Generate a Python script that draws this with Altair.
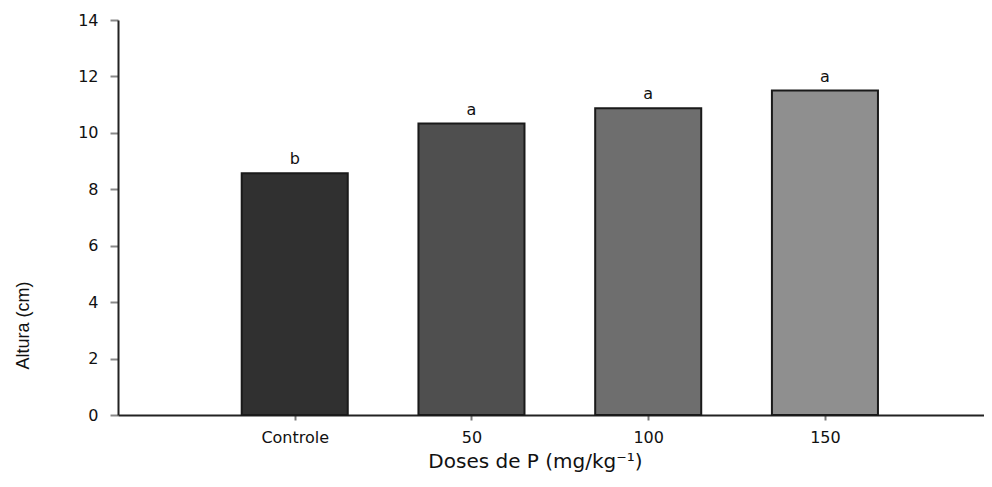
import altair as alt
import pandas as pd

categories = ["Controle", "50", "100", "150"]
values = [8.57, 10.33, 10.87, 11.5]
letters = ["b", "a", "a", "a"]
colors = ["#303030", "#4f4f4f", "#6e6e6e", "#8f8f8f"]

df = pd.DataFrame({
    "cat": categories,
    "pos": list(range(1, len(categories) + 1)),
    "val": values,
    "letter": letters,
    "color": colors,
})

label_expr = "['', " + ", ".join("'%s'" % c for c in categories) + "][datum.value]"

xscale = alt.Scale(domain=[0, 4.9], nice=False, zero=False)
yscale = alt.Scale(domain=[0, 14], nice=False)

base = alt.Chart(df).transform_calculate(
    x0="datum.pos - 0.3", x1="datum.pos + 0.3"
)

bars = base.mark_bar(stroke="#1a1a1a", strokeWidth=2).encode(
    x=alt.X("x0:Q", scale=xscale,
            axis=alt.Axis(values=[1, 2, 3, 4], labelExpr=label_expr,
                          title="Doses de P (mg/kg\u207b\u00b9)",
                          grid=False, tickSize=5, tickColor="#777", tickWidth=2,
                          domainColor="#222", domainWidth=2,
                          labelFont="DejaVu Sans", labelFontSize=16, labelColor="#111",
                          labelPadding=9,
                          titleFont="DejaVu Sans", titleFontSize=20, titleFontWeight="normal",
                          titleColor="#111", titleX=417, titleY=52,
                          titleBaseline="alphabetic")),
    x2="x1:Q",
    y=alt.Y("val:Q", scale=yscale,
            axis=alt.Axis(values=[0, 2, 4, 6, 8, 10, 12, 14], title="Altura (cm)",
                          grid=False, tickSize=8, tickColor="#888", tickWidth=2,
                          domainColor="#222", domainWidth=2,
                          labelFont="DejaVu Sans", labelFontSize=16, labelColor="#111",
                          labelPadding=12,
                          titleFont="Liberation Sans", titleFontSize=18,
                          titleFontWeight="normal", titleColor="#111",
                          titleX=-95, titleY=305, titleAngle=270,
                          titleBaseline="middle", titleAlign="center")),
    y2=alt.datum(0),
    fill=alt.Color("color:N", scale=None),
)

text = base.mark_text(dy=-9, baseline="alphabetic", font="DejaVu Sans",
                      fontSize=16, color="#111").encode(
    x=alt.X("pos:Q", scale=xscale),
    y=alt.Y("val:Q", scale=yscale),
    text="letter:N",
)

chart = (bars + text).properties(
    width=866, height=395,
    background="white",
    autosize=alt.AutoSizeParams(type="none"),
    padding={"left": 110, "top": 12, "right": 0, "bottom": 58},
).configure_view(stroke="transparent", strokeWidth=0)

chart.save("out.html", embed_options={"renderer": "svg", "actions": False})
